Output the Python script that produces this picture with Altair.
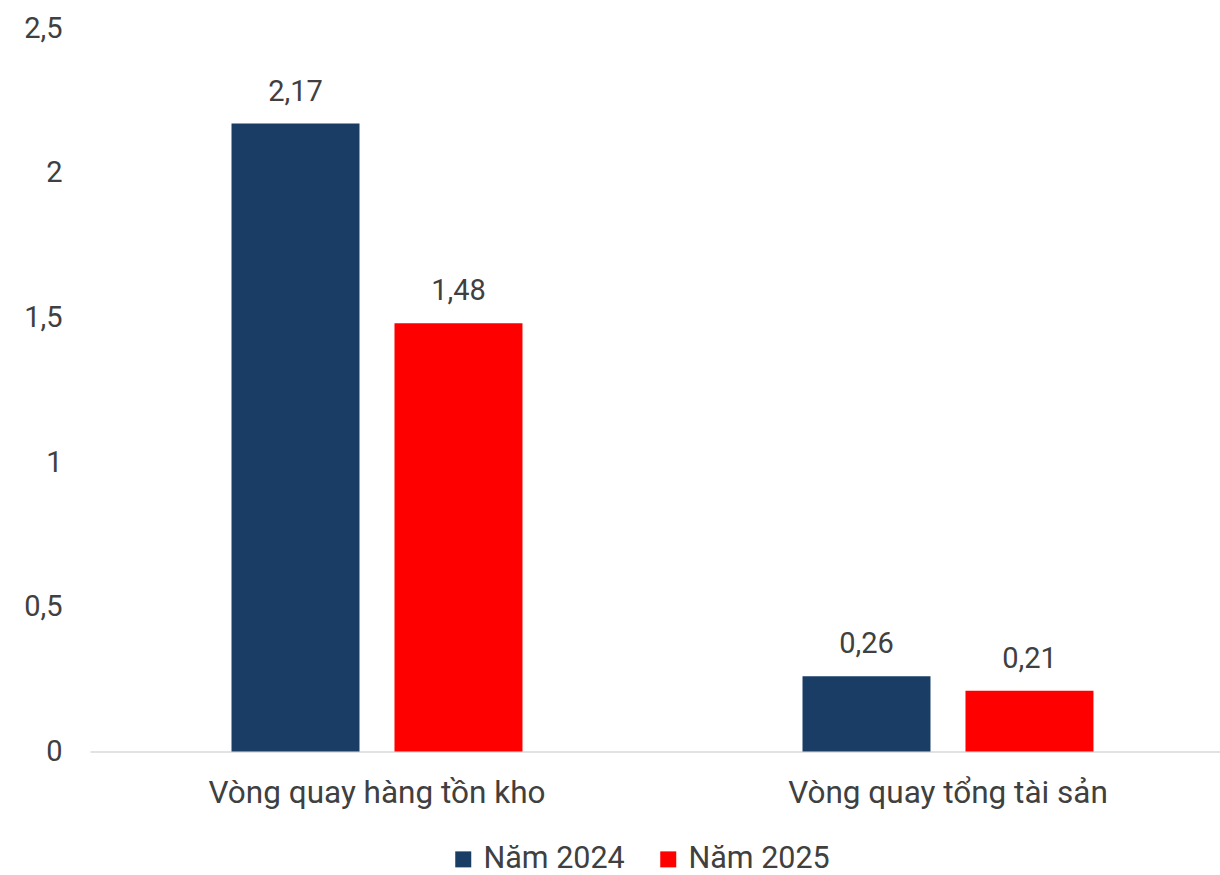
import altair as alt
import pandas as pd

# Chart values
categories = ["Vòng quay hàng tồn kho", "Vòng quay tổng tài sản"]
series = ["Năm 2024", "Năm 2025"]
values_2024 = [2.17, 0.26]
values_2025 = [1.48, 0.21]
colors = ["#1a3d66", "#ff0000"]

rows = []
for i, cat in enumerate(categories):
    rows.append({"cat": cat, "series": series[0], "value": values_2024[i]})
    rows.append({"cat": cat, "series": series[1], "value": values_2025[i]})
df = pd.DataFrame(rows)

FONT = "Roboto"
TEXT = "#404040"
FS = 29

x_enc = alt.X(
    "cat:N",
    sort=categories,
    title=None,
    scale=alt.Scale(paddingInner=0.3, paddingOuter=0.1395, align=0.547),
    axis=alt.Axis(
        labelAngle=0,
        ticks=False,
        domain=True,
        domainColor="#d9d9d9",
        domainWidth=1.5,
        labelPadding=26,
        labelFontSize=31.5,
        labelFont=FONT,
        labelColor=TEXT,
        labelLimit=0,
        grid=False,
    ),
)
xoff = alt.XOffset(
    "series:N",
    sort=series,
    scale=alt.Scale(paddingInner=0.2147, paddingOuter=0.3336),
)
y_enc = alt.Y(
    "value:Q",
    title=None,
    scale=alt.Scale(domain=[0, 2.5], nice=False),
    axis=alt.Axis(
        values=[0, 0.5, 1, 1.5, 2, 2.5],
        labelExpr="replace(toString(datum.value), '.', ',')",
        ticks=False,
        domain=False,
        grid=False,
        labelPadding=28,
        labelFontSize=FS,
        labelFont=FONT,
        labelColor=TEXT,
    ),
)

base = alt.Chart(df).encode(x=x_enc, xOffset=xoff, y=y_enc)

bars = base.mark_bar().encode(
    color=alt.Color(
        "series:N",
        sort=series,
        scale=alt.Scale(domain=series, range=colors),
        legend=alt.Legend(
            title=None,
            orient="none",
            direction="horizontal",
            legendX=358,
            legendY=816,
            symbolType="square",
            symbolSize=256,
            symbolStrokeWidth=0,
            labelFontSize=30.5,
            labelFont=FONT,
            labelColor=TEXT,
            labelLimit=0,
            labelOffset=5,
            columnPadding=28,
            padding=0,
        ),
    )
)

labels = base.mark_text(
    baseline="alphabetic", dy=-23, fontSize=FS, font=FONT, color=TEXT
).transform_calculate(
    label="replace(format(datum.value, '.2f'), '.', ',')"
).encode(text="label:N")

chart = (
    alt.layer(bars, labels)
    .properties(
        width=1130,
        height=723.5,
        autosize=alt.AutoSizeParams(type="none"),
        padding={"left": 90, "top": 28, "right": 0, "bottom": 123.5},
        background="white",
    )
    .configure_view(stroke=None)
)

chart.save("out.html", embed_options={"renderer": "svg", "actions": False})
